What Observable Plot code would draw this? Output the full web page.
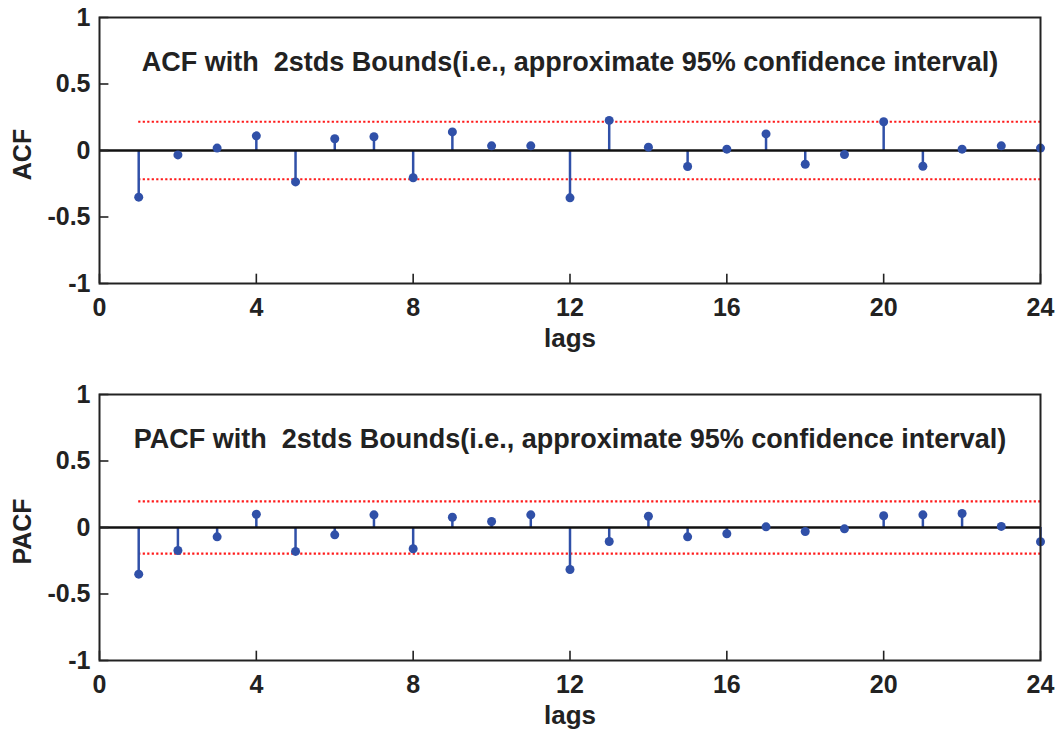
<!DOCTYPE html>
<html>
<head>
<meta charset="utf-8">
<script src="https://cdn.jsdelivr.net/npm/d3@7"></script>
<script src="https://cdn.jsdelivr.net/npm/@observablehq/plot@0.6"></script>
<style>
  html, body { margin: 0; padding: 0; background: #fff; }
  #chart svg { display: block; }
</style>
</head>
<body>
<div id="chart"></div>
<script>
const lags = [1,2,3,4,5,6,7,8,9,10,11,12,13,14,15,16,17,18,19,20,21,22,23,24];
const acfValues = [-0.351,-0.033,0.018,0.110,-0.236,0.088,0.103,-0.205,0.140,0.035,0.035,-0.356,
                   0.226,0.025,-0.120,0.010,0.125,-0.103,-0.030,0.216,-0.118,0.010,0.035,0.018];
const pacfValues = [-0.351,-0.173,-0.070,0.100,-0.180,-0.055,0.095,-0.160,0.077,0.045,0.095,-0.316,
                    -0.105,0.085,-0.070,-0.047,0.005,-0.030,-0.010,0.088,0.095,0.105,0.008,-0.107];
const acfBound = 0.216;
const pacfBound = 0.196;
const xTicks = [0,4,8,12,16,20,24];
const yTicks = [-1,-0.5,0,0.5,1];
const xLabel = "lags";
const acfTitle = "ACF with  2stds Bounds(i.e., approximate 95% confidence interval)";
const pacfTitle = "PACF with  2stds Bounds(i.e., approximate 95% confidence interval)";

const FONT = "'Liberation Sans', Arial, Helvetica, sans-serif";
const BLUE = "#3050a8";
const RED = "#ff1a1a";
const INK = "#222";

function panel(values, bound, yLabel, title, height, marginBottom) {
  const data = lags.map((lag, i) => ({lag, v: values[i]}));
  const xTickLen = 0.24;   // inward tick length (lag units)
  const yTickLen = 0.07;   // inward tick length (value units)
  return Plot.plot({
    width: 1058,
    height,
    marginTop: 17,
    marginBottom,
    marginLeft: 99,
    marginRight: 18,
    style: {fontFamily: FONT, background: "#fff", overflow: "visible"},
    x: {domain: [0, 24]},
    y: {domain: [-1, 1]},
    marks: [
      Plot.ruleY([bound, -bound], {x1: lags[0], x2: lags[lags.length - 1], stroke: RED, strokeWidth: 2.2, strokeDasharray: "2.2,2.3"}),
      Plot.ruleX(data, {x: "lag", y1: 0, y2: "v", stroke: BLUE, strokeWidth: 2.5}),
      Plot.ruleY([0], {stroke: "#111", strokeWidth: 2.3}),
      Plot.dot(data, {x: "lag", y: "v", r: 4.5, fill: BLUE, stroke: "none"}),
      Plot.ruleY(yTicks, {x1: xTicks[0], x2: xTicks[0] + xTickLen, stroke: INK, strokeWidth: 1.6}),
      Plot.ruleX(xTicks, {y1: yTicks[0], y2: yTicks[0] + yTickLen, stroke: INK, strokeWidth: 1.6}),
      Plot.frame({stroke: INK, strokeWidth: 2}),
      Plot.axisY({ticks: yTicks, tickSize: 0, tickPadding: 9, tickFormat: d => String(d), fontSize: 25, fontWeight: "bold", fill: INK, label: null}),
      Plot.axisX({ticks: xTicks, tickSize: 0, tickPadding: 15, tickFormat: d => String(d), fontSize: 25, fontWeight: "bold", fill: INK, label: null}),
      Plot.text([xLabel], {frameAnchor: "bottom", lineAnchor: "middle", textAnchor: "middle", dy: 55, text: d => d, fontSize: 26, fontWeight: "bold", fill: INK}),
      Plot.text([yLabel], {frameAnchor: "left", lineAnchor: "middle", textAnchor: "middle", dx: -77, dy: 4, rotate: -90, text: d => d, fontSize: 25, fontWeight: "bold", fill: INK}),
      Plot.text([title], {frameAnchor: "top", lineAnchor: "middle", textAnchor: "middle", dy: 45, text: d => d, fontSize: 27, fontWeight: "bold", fill: INK})
    ]
  });
}

const root = document.getElementById("chart");
root.appendChild(panel(acfValues, acfBound, "ACF", acfTitle, 377, 94));
root.appendChild(panel(pacfValues, pacfBound, "PACF", pacfTitle, 355, 72));
</script>
</body>
</html>
